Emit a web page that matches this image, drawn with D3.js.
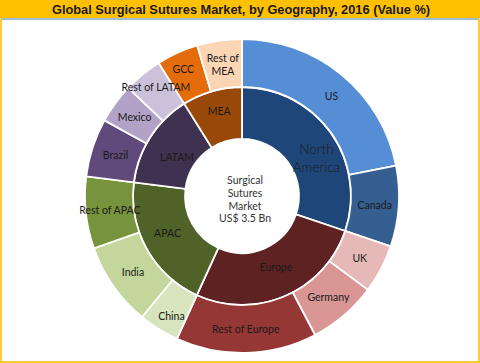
<!DOCTYPE html>
<html>
<head>
<meta charset="utf-8">
<script src="https://cdn.jsdelivr.net/npm/d3@7"></script>
<style>
  body { margin: 0; background: #fff; }
  svg { display: block; }
</style>
</head>
<body>
<script>
// Sunburst-style double donut: regions inside, countries outside

const width = 480;
const height = 363;

const regions = ["North America", "Europe", "APAC", "LATAM", "MEA"];
const regionValues = [30.2, 26.6, 20.2, 14.1, 8.9];
const regionColors = ["#1f4678", "#5e2222", "#4f6228", "#3f3150", "#984807"];

const countries = ["US", "Canada", "UK", "Germany", "Rest of Europe", "China", "India", "Rest of APAC",
                   "Brazil", "Mexico", "Rest of LATAM", "GCC", "Rest of MEA"];
const countryValues = [21.9, 8.3, 5.0, 7.1, 14.5, 4.2, 8.6, 7.4, 6.0, 4.1, 4.0, 4.3, 4.6];
const countryColors = ["#558ed5", "#355f91", "#e6b9b8", "#d99694", "#953735", "#d7e4bd", "#c3d69b", "#77933c",
                       "#604a7b", "#b3a2c7", "#ccc1da", "#e46c0a", "#fcd5b5"];

const centerLines = ["Surgical", "Sutures", "Market", "US$ 3.5 Bn"];

const cx = 242, cy = 196;
const r0 = 57, r1 = 109, r2 = 157;

const svg = d3.select("body").append("svg")
    .attr("width", width)
    .attr("height", height);

// frame + title bar
svg.append("rect")
    .attr("x", 1).attr("y", 1)
    .attr("width", width - 2).attr("height", height - 2)
    .attr("fill", "#fff")
    .attr("stroke", "#ffcc33")
    .attr("stroke-width", 2);
svg.append("rect")
    .attr("x", 0).attr("y", 0)
    .attr("width", width).attr("height", 18)
    .attr("fill", "#ffc000");
svg.append("rect")
    .attr("x", 2).attr("y", 18)
    .attr("width", width - 4).attr("height", 2)
    .attr("fill", "#a4bad9");
svg.append("text")
    .attr("x", 241).attr("y", 14)
    .attr("text-anchor", "middle")
    .attr("font-family", "Liberation Sans, Arial, sans-serif")
    .attr("font-weight", "bold")
    .attr("font-size", 12.8)
    .attr("fill", "#1a1a1a")
    .text("Global Surgical Sutures Market, by Geography, 2016 (Value %)");

const g = svg.append("g").attr("transform", "translate(" + cx + "," + cy + ")");

const pie = d3.pie().sort(null).value(d => d.v);

const innerArc = d3.arc().innerRadius(r0).outerRadius(r1);
const outerArc = d3.arc().innerRadius(r1).outerRadius(r2);

const innerData = pie(regions.map((n, i) => ({n: n, v: regionValues[i], c: regionColors[i]})));
const outerData = pie(countries.map((n, i) => ({n: n, v: countryValues[i], c: countryColors[i]})));

g.selectAll(".inner")
    .data(innerData)
    .join("path")
    .attr("class", "inner")
    .attr("d", innerArc)
    .attr("fill", d => d.data.c)
    .attr("stroke", "#fff")
    .attr("stroke-width", 1.8);

g.selectAll(".outer")
    .data(outerData)
    .join("path")
    .attr("class", "outer")
    .attr("d", outerArc)
    .attr("fill", d => d.data.c)
    .attr("stroke", "#fff")
    .attr("stroke-width", 1.8);

const labelFont = "Lato, Calibri, sans-serif";

// small hand nudges where the original moved a label off the centroid
const nudge = {
    "North America": [7, 11],
    "China": [0, 7],
    "GCC": [-4, -6],
    "Rest of LATAM": [-2, -6],
    "US": [5, 3],
    "MEA": [0, -5],
    "LATAM": [5, 6],
    "Europe": [1, -5],
    "APAC": [-2, -3]
};

function addLabels(data, arc, cls) {
    const t = g.selectAll("." + cls)
        .data(data)
        .join("text")
        .attr("class", cls)
        .attr("transform", d => {
            const c = arc.centroid(d);
            const o = nudge[d.data.n] || [0, 0];
            return "translate(" + (c[0] + o[0]) + "," + (c[1] + o[1]) + ")";
        })
        .attr("text-anchor", "middle")
        .attr("font-family", labelFont)
        .attr("font-size", 10.5)
        .attr("fill", "#1a1a1a");
    t.each(function(d) {
        // long names wrap like the original
        let lines = [d.data.n];
        let step = 13;
        if (d.data.n === "North America") { lines = ["North", "America"]; step = 18; }
        if (d.data.n === "Rest of MEA") lines = ["Rest of", "MEA"];
        const sel = d3.select(this);
        lines.forEach((l, i) => {
            sel.append("tspan")
                .attr("x", 0)
                .attr("y", (i - (lines.length - 1) / 2) * step + 4)
                .text(l);
        });
    });
    return t;
}

addLabels(innerData, innerArc, "inner-label")
    .filter(d => d.data.n === "North America")
    .attr("font-size", 13.5)
    .attr("font-weight", 300);
addLabels(outerData, outerArc, "outer-label");

g.selectAll(".center")
    .data(centerLines)
    .join("text")
    .attr("class", "center")
    .attr("x", 3)
    .attr("y", (d, i) => -12 + i * 12.8)
    .attr("text-anchor", "middle")
    .attr("font-family", labelFont)
    .attr("font-size", 10.5)
    .attr("fill", "#333")
    .text(d => d);
</script>
</body>
</html>
